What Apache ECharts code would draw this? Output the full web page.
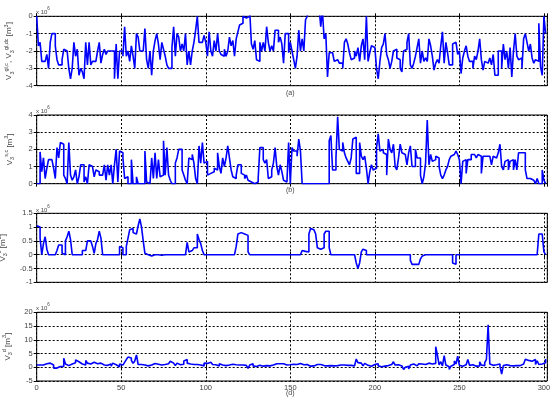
<!DOCTYPE html>
<html>
<head>
<meta charset="utf-8">
<script src="https://cdn.jsdelivr.net/npm/echarts@6/dist/echarts.min.js"></script>
<style>
html, body { margin: 0; padding: 0; background: #fff; }
#chart { width: 551px; height: 401px; }
</style>
</head>
<body>
<div id="chart"></div>
<script>
// x axis: sample index 0..301
var xTicks = [0, 50, 100, 150, 200, 250, 300];
var xMax = 302;

// y tick labels per panel (values in units of 10^6 m^3)
var yTicksA = [-4, -3, -2, -1, 0];
var yTicksB = [0, 1, 2, 3, 4];
var yTicksC = [-1, -0.5, 0, 0.5, 1, 1.5];
var yTicksD = [-5, 0, 5, 10, 15, 20];

// (a) V3 gl,c / gl,dc
var seriesA = [
  0, -1.7, -1.5, -2.6, -2.6, -2.6, -2.2, -3.0, -1.5, -1.0,
  -1.0, -1.7, -2.5, -2.8, -2.8, -2.5, -1.9, -2.0, -2.0, -3.0,
  -3.6, -3.0, -1.5, -2.3, -1.9, -3.4, -3.0, -3.2, -3.6, -1.5,
  -2.8, -1.5, -2.8, -2.6, -2.6, -2.5, -2.0, -1.5, -2.7, -2.2,
  -1.9, -2.2, -2.0, -2.0, -2.0, -2.0, -3.6, -1.6, -3.6, -2.0,
  -2.0, -2.3, -0.6, -2.3, -2.0, -2.6, -1.7, -2.3, -3.0, -1.0,
  -1.2, -2.0, -2.0, -1.9, -0.7, -2.5, -3.0, -2.0, -3.4, -2.0,
  -1.4, -1.0, -1.6, -2.5, -1.5, -1.9, -2.3, -2.8, -3.0, -3.0,
  -1.8, -0.6, -2.3, -1.0, -1.2, -2.0, -1.6, -2.0, -1.0, -2.8,
  -2.0, -2.8, -2.0, -1.5, -0.8, 0, -1.5, -1.5, -1.5, -1.1,
  -1.5, -2.3, -0.9, -2.0, -2.3, -1.4, -2.0, -1.0, -2.0, -2.2,
  -2.3, -1.9, -2.3, -2.0, -1.2, -1.7, -1.4, -2.3, -1.3, -0.9,
  -0.5, -0.4, 0, -0.1, -0.2, 0, 0.3, -1.6, -1.9, -1.4,
  -2.5, -2.6, -1.5, -2.0, -1.5, -2.0, -0.6, -1.5, -2.0, -1.7,
  -2.0, -0.8, -0.8, -1.5, -1.2, -1.6, -2.7, -1.0, -1.0, -2.1,
  -1.5, -2.0, -2.5, -3.0, -2.3, -0.8, -2.0, -1.3, -2.0, -0.2,
  0, 0.5, 0.8, 0.4, 0.6, 0.9, 0.3, 0.5, -0.6, 0.3,
  -1.3, -1.0, -3.5, -2.1, -2.1, -2.1, -2.6, -2.5, -2.4, -2.7,
  -2.7, -3.0, -1.5, -1.3, -1.6, -2.1, -2.5, -2.4, -2.0, -2.3,
  -1.8, -2.6, -1.7, -1.3, -2.5, 0, -2.6, -2.1, -1.7, -1.8,
  -1.7, -3.0, -3.6, -2.6, -1.8, -1.6, -1.0, -2.2, -2.5, -3.0,
  -2.6, -2.0, -1.9, -2.4, -2.5, -3.0, -3.2, -2.0, -1.9, -1.5,
  -1.0, -2.8, -3.0, -2.7, -2.3, -1.8, -1.3, -2.7, -2.0, -2.6,
  -2.4, -2.6, -1.3, -1.7, -2.3, -3.1, -2.7, -2.5, -2.7, -1.7,
  -0.9, -2.7, -1.5, -2.1, -2.8, -2.8, -1.6, -1.5, -1.6, -2.2,
  -2.0, -3.3, -2.4, -2.0, -1.7, -2.3, -2.6, -2.6, -3.0, -2.3,
  -2.5, -2.0, -1.3, -2.5, -3.1, -2.6, -2.7, -2.6, -2.4, -2.8,
  -2.2, -3.4, -3.4, -2.0, -2.0, -3.0, -1.6, -2.5, -2.0, -3.0,
  -1.8, -3.5, -2.0, -1.0, -2.3, -2.5, -2.4, -3.0, -1.3, -1.0,
  -1.5, -2.0, -1.6, -2.4, -2.7, -2.5, -2.6, -0.4, -2.9, -3.4,
  0, -1.0
];

// (b) V3 s,c
var seriesB = [
  0, 0, 1.85, 0.7, 1.5, 0.3, 0.9, 1.4, 1.4, 1.4,
  0.9, 0.3, 2.1, 1.5, 2.4, 2.3, 0.5, 0.3, 0, 2.4,
  0.5, 0.2, 0.4, 0.8, 0, 0.4, 1.1, 1.1, 0.1, 0.4,
  0, 1.1, 1.0, 0.9, 0.4, 0.8, 0.7, 0.5, 0.5, 0.4,
  1.1, 0.2, 1.1, 0.5, 1.1, 0, 1.1, 2.0, 0.1, 1.9,
  1.8, 1.5, 0.3, 0.4, 0, 0, 1.4, 0, 0, 0.4,
  0, 0, 0, 0, 1.9, 0.1, 0, 0.1, 1.5, 0.3,
  1.8, 0.3, 1.4, 0.4, 0.5, 2.5, 0.5, 2.1, 0.5, 0.2,
  0, 0, 1.2, 1.5, 2.0, 2.0, 0.8, 0.5, 0.2, 0,
  1.5, 1.4, 1.7, 1.2, 0.3, 0, 2.2, 1.2, 2.4, 1.2,
  1.3, 0.5, 0.6, 0.6, 0.7, 0.9, 0.8, 1.8, 1.0, 0.6,
  1.5, 1.0, 1.5, 2.2, 1.5, 0.8, 0.4, 0.3, 0.5, 1.1,
  1.1, 0.6, 0.5, 0.3, 0.5, 0.2, 0.1, 0.05, 0, 0,
  0.1, 0.3, 2.1, 2.1, 1.4, 1.2, 1.4, 0.3, 0.4, 0.8,
  1.2, 2.1, 1.0, 0.5, 1.1, 0.7, 0.2, 0.1, 0, 2.4,
  0, 2.1, 1.9, 1.9, 1.6, 2.6, 1.9, 0, 0, 0,
  0, 0, 0, 0, 0, 0, 0, 0, 0, 0,
  0, 0, 0, 2.5, 2.8, 0.8, 0.8, 1.5, 3.9, 2.0,
  1.9, 2.4, 1.8, 1.5, 1.3, 1.1, 1.5, 2.6, 2.7, 0.6,
  0.6, 2.4, 1.6, 1.4, 1.6, 0.9, 0, 0.7, 1.1, 0.8,
  0.9, 2.1, 2.9, 1.9, 2.0, 1.8, 1.7, 0.5, 2.6, 2.0,
  1.8, 2.3, 1.0, 0.8, 1.5, 2.3, 1.8, 1.7, 1.6, 1.1,
  1.8, 2.2, 1.0, 1.0, 2.0, 1.5, 1.5, 0.5, 0, 0.4,
  1.2, 3.7, 1.1, 1.7, 1.3, 1.4, 1.6, 1.5, 1.0, 0.5,
  0.3, 0.5, 0.8, 1.0, 1.4, 1.6, 1.7, 1.8, 1.9, 1.7,
  1.4, 0, 1.3, 1.4, 0.6, 1.4, 1.4, 1.7, 1.7, 1.7,
  1.5, 1.7, 1.6, 0.6, 1.6, 1.6, 1.5, 1.6, 1.5, 1.1,
  1.6, 1.5, 1.6, 1.8, 2.3, 1.0, 0.8, 1.3, 1.4, 0.8,
  1.3, 1.4, 0.8, 1.4, 0.8, 1.8, 1.8, 1.8, 1.8, 0.8,
  0.3, 0.3, 0.4, 0.2, 0.3, 0, 0.3, 0, 0, 0.8,
  0.2, 0
];

// (c) V3 c
var seriesC = [
  1.05, 1.0, 0.6, 0, 0.4, 0.65, 0.2, 0, 0, 0,
  0, 0.05, 0.15, 0.35, 0.35, 0.05, 0, 0.5, 0.65, 0.85,
  0.55, 0, 0, 0, 0, 0, 0, 0.15, 0.15, 0.15,
  0.5, 0.5, 0.5, 0.3, 0.05, 0.4, 0.55, 0.85, 0.6, 0,
  0, 0, 0, 0, 0, 0, 0, 0, 0, 0.3,
  0.25, 0, 0, 0.3, 0.6, 0.9, 0.95, 0.8, 0.75, 0.8,
  1.05, 1.3, 1.0, 0.5, 0.05, 0, -0.03, -0.05, -0.01, 0,
  0, 0, 0, -0.02, 0, 0, 0, 0, 0, 0,
  0, 0, 0, 0, 0, 0, 0, 0, 0, 0.45,
  0.1, 0.15, 0.2, 0.25, 0.25, 0.75, 0.55, 0.4, 0.15, 0,
  0, 0, 0, 0, 0, 0, 0, 0, 0, 0,
  0, 0, 0, 0, 0, 0, 0, 0, 0.3, 0.75,
  0.8, 0.8, 0.75, 0.7, 0.7, 0.1, 0, 0, 0, 0,
  0, 0, 0, 0, 0, 0, 0, 0, 0, 0,
  0, 0, 0, 0, 0, 0, 0, 0, 0, 0,
  0, 0, 0, 0, 0, 0, 0, 0.15, 0.12, 0.05,
  0.1, 0.75, 0.95, 0.9, 0.85, 0.75, 0.25, 0.2, 0.2, 0.25,
  0.75, 0.85, 0.85, 0.25, 0, 0, 0, 0, 0, 0,
  0, 0, 0, 0, 0, 0, 0, 0, 0, -0.3,
  -0.5, -0.3, 0.1, 0.2, 0.15, 0, 0, 0, 0, 0,
  0, 0, 0, 0, 0, 0, 0, 0, 0, 0,
  0, 0, 0, 0, 0, 0, 0, 0, 0, 0,
  0, -0.2, -0.35, -0.35, -0.35, -0.35, -0.35, -0.15, -0.05, 0,
  0, 0, 0, 0, 0, 0, 0, 0, 0, 0,
  0, 0, 0, 0, 0, 0, -0.3, -0.35, 0, 0,
  0, 0, 0, 0, 0, 0, 0, 0, 0, 0,
  0, 0, 0, 0, 0, 0, 0, 0, 0, 0,
  0, 0, 0, 0, 0, 0, 0, 0, 0, 0,
  0, 0, 0, 0, 0, 0, 0, 0, 0, 0,
  0, 0, 0, 0, 0, 0, 0, 0.75, 0.75, 0.75,
  0.1, 0
];

// (d) V3 d
var seriesD = [
  0.8, 0.8, 0.8, 0.8, 0.8, 1.3, 1.0, 1.5, 1.0, 0.8,
  -0.3, -0.3, 0, 0.3, 0.3, 0.3, 3.3, 1.2, 0.6, 1.2,
  1.2, 1.6, 1.6, 2.7, 2.0, 1.3, 1.2, 1.7, 0.8, 2.5,
  1.5, 1.2, 1.0, 1.8, 2.0, 1.3, 1.8, 1.5, 1.8, 0.8,
  1.5, 0.7, 0.9, 1.2, 0.4, 1.5, 0.9, 0.5, 0.2, 1.2,
  0.8, 1.3, 1.8, 2.8, 3.7, 3.4, 2.5, 1.4, 2.3, 4.5,
  1.0, 1.0, 0.7, 0.8, 0.3, 0.5, 1.0, 0.8, 1.2, 1.4,
  0.7, 1.1, 1.2, 0.8, 1.3, 1.0, 0.8, 1.3, 0.8, 2.2,
  1.5, 0.9, 0.6, 1.5, 0.9, 1.2, 1.1, 2.3, 2.8, 1.5,
  1.2, 1.0, 1.0, 0.8, 1.0, 0.7, 0.8, 1.0, 0.5, 1.5,
  1.4, 1.2, 1.8, 1.5, 1.0, 0.9, 1.2, 0.5, 1.3, 0.8,
  1.0, 0.6, 1.2, 0.8, 1.0, 1.1, 0.7, 0.9, 0.5, 0.8,
  0.4, 0.8, 0.5, 0.7, 0.4, -0.4, 0.8, 1.3, 0.5, 0.3,
  0.6, 0.7, 0.5, 0.4, 0.9, 0.6, 0.8, 0.5, 0.6, 0.8,
  0.7, 1.3, 1.6, 1.3, 0.8, 1.3, 1.1, 0.8, 0.7, 0.9,
  0.4, 1.1, 1.3, 1.0, 0.7, 1.4, 1.5, 0.9, 1.1, 1.0,
  0.8, 0.4, 0.6, 0.5, 0.8, 1.0, 0.8, 1.0, 0.7, 0.6,
  0.7, 0.5, 0.8, 0.6, 0.9, 0.5, 0.7, 0.6, 0.5, 0.8,
  0.6, 0.8, 0.5, 0.7, 0.5, 0.7, 0.6, 0.5, 0.6, 3.0,
  1.7, 1.5, 1.9, 0.5, 1.4, 0.7, 0.6, 0.4, 0.7, 1.0,
  0.9, 1.3, 0.5, 0.2, 0.7, 0.4, 0.9, 0.6, 1.0, 1.0,
  1.3, 2.0, 0.8, 0.9, 0.8, 0.5, 0.3, -0.8, 0, 0.4,
  -0.6, 0.8, 1.2, 0.9, 0.5, 0.6, 1.3, 1.2, 0.9, 1.0,
  0.8, 1.5, 2.0, 1.2, 0.5, 1.4, 7.5, 4.5, 0.9, 2.0,
  0.5, 4.2, 0.8, 0.2, -0.8, 0.4, 1.0, 2.3, 1.2, 4.0,
  0.7, 0.4, 0.7, 0.9, 0.5, 2.8, 0.7, 0.9, 0.6, 0.4,
  0.7, 0.5, 2.0, 0.8, 0.6, 1.7, 2.9, 15.5, 1.2, 0.7,
  1.0, 0.9, 0.8, 1.2, 0.4, -2.5, 0.6, 0.9, 0.4, 0.6,
  0.7, 0.5, 0.8, 0.6, 0.3, 0.6, 0.5, 1.2, 1.0, 2.9,
  2.5, 2.7, 2.2, 2.4, 2.8, 1.0, 2.3, 1.0, 1.2, 1.2,
  1.6, 3.0
];

var textColor = '#444';
var fontFamily = '"Liberation Sans", Arial, sans-serif';

function yName(sup, extra) {
  // V_3^{sup} (with optional second term) [m^3]
  var s = '{m|V}{s|3}{p|' + sup + '}';
  if (extra) s += '{m|, V}{s|3}{p|' + extra + '}';
  return s + '{m| [m}{p|3}{m|]}';
}

var nameRich = {
  m: { fontSize: 8, lineHeight: 12, color: textColor, fontFamily: fontFamily },
  s: { fontSize: 5.5, lineHeight: 6, verticalAlign: 'bottom', color: textColor, fontFamily: fontFamily },
  p: { fontSize: 5.5, lineHeight: 6, verticalAlign: 'top', color: textColor, fontFamily: fontFamily }
};

var panels = [
  { data: seriesA, ticks: yTicksA, top: 16.3, height: 69.4, name: yName('gl,c', 'gl,dc'), gap: 21, tag: '(a)', tagTop: 90, expTop: 6 },
  { data: seriesB, ticks: yTicksB, top: 115, height: 68.7, name: yName('s,c'), gap: 21, tag: '(b)', tagTop: 187, expTop: 105 },
  { data: seriesC, ticks: yTicksC, top: 213.3, height: 69, name: yName('c'), gap: 25, tag: '', tagTop: 0, expTop: 204 },
  { data: seriesD, ticks: yTicksD, top: 312.3, height: 68.7, name: yName('d'), gap: 23, tag: '(d)', tagTop: 390, expTop: 302 }
];

var gridLine = { color: '#000', width: 1, type: [2, 2] };
var tickStyle = { show: true, inside: true, length: 3, lineStyle: { color: '#000', width: 1 } };
var labelStyle = { color: textColor, fontSize: 7.5, fontFamily: fontFamily };

var grid = [], xAxis = [], yAxis = [], series = [], graphic = [];

panels.forEach(function (p, i) {
  var isLast = i === panels.length - 1;
  var t = p.ticks;
  grid.push({
    left: 36.7, right: 3.7, top: p.top, height: p.height,
    outerBoundsMode: 'none', containLabel: false,
    show: true, borderColor: '#000', borderWidth: 1, backgroundColor: 'transparent'
  });
  xAxis.push({
    gridIndex: i, type: 'value', min: xTicks[0], max: xMax, interval: xTicks[1] - xTicks[0],
    axisLine: { show: false }, axisTick: tickStyle,
    axisLabel: Object.assign({
      show: isLast, margin: 3,
      formatter: function (v) { return xTicks.indexOf(v) >= 0 ? String(v) : ''; }
    }, labelStyle),
    splitLine: { show: true, lineStyle: gridLine }
  });
  xAxis.push({
    gridIndex: i, type: 'value', position: 'top', min: xTicks[0], max: xMax, interval: xTicks[1] - xTicks[0],
    axisLine: { show: false }, axisTick: tickStyle, axisLabel: { show: false }, splitLine: { show: false }
  });
  yAxis.push({
    gridIndex: i, type: 'value', min: t[0], max: t[t.length - 1], interval: t[1] - t[0],
    axisLine: { show: false }, axisTick: tickStyle,
    axisLabel: Object.assign({ margin: 4 }, labelStyle),
    splitLine: { show: true, lineStyle: gridLine },
    name: p.name, nameLocation: 'middle', nameRotate: 90, nameGap: p.gap,
    nameTextStyle: { rich: nameRich }
  });
  yAxis.push({
    gridIndex: i, type: 'value', position: 'right', min: t[0], max: t[t.length - 1], interval: t[1] - t[0],
    axisLine: { show: false }, axisTick: tickStyle, axisLabel: { show: false }, splitLine: { show: false }
  });
  series.push({
    type: 'line', xAxisIndex: 2 * i, yAxisIndex: 2 * i,
    data: p.data.map(function (v, k) { return [k, v]; }),
    step: 'end', showSymbol: false, clip: true,
    lineStyle: { color: '#0000ff', width: 1.6 }
  });
  graphic.push({
    type: 'text', left: 36, top: p.expTop,
    style: {
      text: '{a|x 10}{b|6}',
      rich: {
        a: { fontSize: 6, fill: textColor, fontFamily: fontFamily, lineHeight: 9, verticalAlign: 'bottom' },
        b: { fontSize: 4.5, fill: textColor, fontFamily: fontFamily, lineHeight: 5, verticalAlign: 'top' }
      }
    }
  });
  if (p.tag) {
    graphic.push({
      type: 'text', left: 286, top: p.tagTop,
      style: { text: p.tag, fontSize: 7, fill: textColor, fontFamily: fontFamily }
    });
  }
});

var chart = echarts.init(document.getElementById('chart'));
chart.setOption({
  animation: false,
  backgroundColor: '#fff',
  grid: grid,
  xAxis: xAxis,
  yAxis: yAxis,
  series: series,
  graphic: graphic
});
</script>
</body>
</html>
